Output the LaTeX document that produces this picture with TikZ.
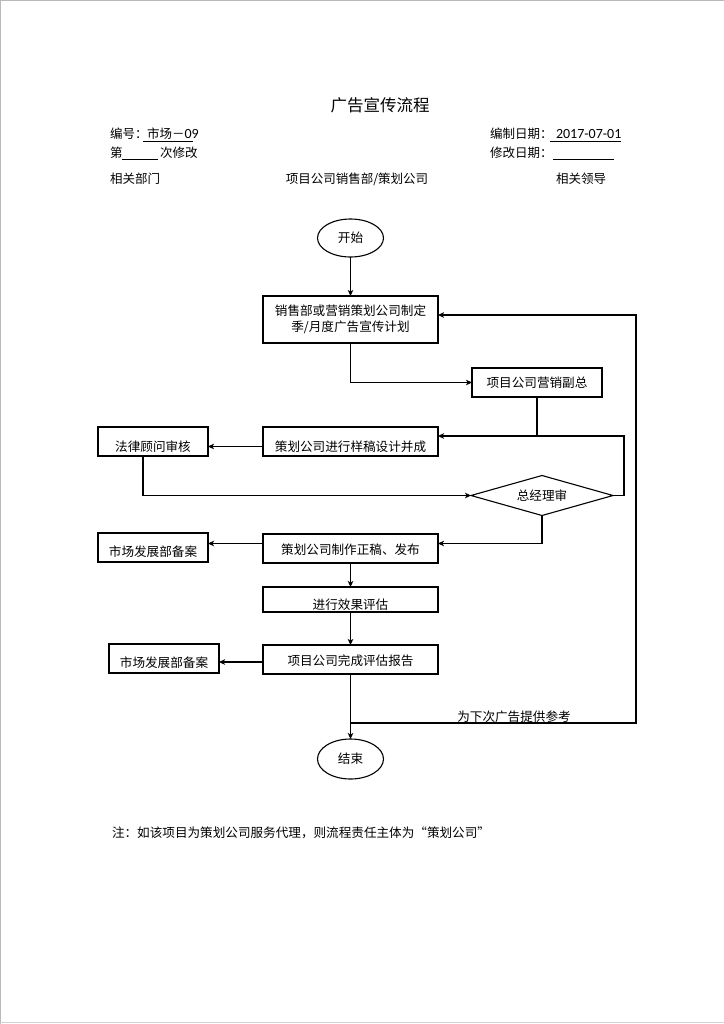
\documentclass[tikz,border=0pt]{standalone}
\usepackage{fontspec}
\setmainfont{Noto Sans CJK SC}
\newfontfamily\lat{Carlito}
\usetikzlibrary{shapes.geometric,arrows.meta}
\begin{document}
\begin{tikzpicture}[x=1bp,y=-1bp,
  every node/.style={inner sep=0pt, outer sep=0pt},
  txt/.style={font=\fontsize{12.6bp}{16bp}\selectfont},
  ttl/.style={font=\fontsize{16.5bp}{20bp}\selectfont},
  hdr/.style={font=\fontsize{12.5bp}{15bp}\selectfont, anchor=base west},
  box/.style={draw, line width=1.1bp, rectangle, minimum height=29bp, txt, align=center},
  wide/.style={minimum width=175bp},
  narrow/.style={minimum width=110bp},
  drop/.style={text height=#1, text depth=0pt},
  term/.style={draw, line width=1.1bp, ellipse, minimum width=66bp, minimum height=38bp, txt},
  dec/.style={draw, line width=1.1bp, diamond, aspect=3.55, minimum width=142bp, minimum height=40bp, txt},
  conn/.style={line width=1.1bp},
  arr/.style={line width=1.1bp, -{Stealth[length=6bp,width=5.5bp,inset=1.5bp]}},
  uline/.style={line width=0.8bp},
  pageedge/.style={line width=1.2bp},
]
\useasboundingbox (0,0) rectangle (724,1024);
% page edge
\draw[pageedge, gray!55] (0.6,1024) -- (0.6,0.6) -- (724,0.6);
\draw[pageedge, gray!35] (0,1022.8) -- (724,1022.8);

% title and header
\node[ttl] (title) at (380,105) {广告宣传流程};
\node[hdr] (n1) at (110,138.5) {编号：};
\node[hdr] (n1v) at (147,138.5) {市场－{\lat\fontsize{14bp}{16bp}\selectfont 09}};
\draw[uline] (143,141.5) -- (193,141.5);
\node[hdr] (d1) at (490,138.5) {编制日期：};
\node[hdr] (d1v) at (556,138.5) {\lat\fontsize{14bp}{16bp}\selectfont 2017-07-01};
\draw[uline] (550,141.5) -- (621,141.5);
\node[hdr] (n2) at (110,157.5) {第};
\draw[uline] (122,159.5) -- (158,159.5);
\node[hdr] (n2b) at (160,157.5) {次修改};
\node[hdr] (d2) at (490,157.5) {修改日期：};
\draw[uline] (553,159.5) -- (614,159.5);
\node[hdr] (r1) at (110,183.5) {相关部门};
\node[hdr, anchor=base] (r2) at (357,183.5) {项目公司销售部/策划公司};
\node[hdr] (r3) at (556,183.5) {相关领导};

% flow nodes
\node[term] (start) at (350.5,238) {开始};
\node[box, wide, minimum height=47bp] (b1) at (350.5,319.5) {销售部或营销策划公司制定\\季/月度广告宣传计划};
\node[box, minimum width=130bp] (b2) at (537,382.5) {项目公司营销副总};
\node[box, wide, drop=20bp] (b3) at (350.5,441.5) {策划公司进行样稿设计并成};
\node[box, narrow, drop=20bp] (b4) at (153,441.5) {法律顾问审核};
\node[dec] (dia) at (542,495.5) {总经理审};
\node[box, wide, drop=12bp] (b5) at (350.5,548.5) {策划公司制作正稿、发布};
\node[box, narrow, drop=18bp] (b6) at (153,547.5) {市场发展部备案};
\node[box, wide, minimum height=25bp, drop=20bp] (b7) at (350.5,599.5) {进行效果评估};
\node[box, wide, drop=12bp] (b8) at (350.5,659.5) {项目公司完成评估报告};
\node[box, narrow, drop=18bp] (b9) at (164,658.5) {市场发展部备案};
\node[term, minimum height=40bp] (end) at (350.5,759) {结束};

% connectors
\coordinate (j1) at (537,436);
\coordinate (j2) at (350.5,723);
\coordinate (r) at (636,723);
\draw[arr] (start) -- (b1);
\draw[arr] (b1.south) |- (b2.west);
\draw[conn] (b2.south) -- (j1);
\draw[arr] (dia.east) -- ++(11,0) |- (b3.east |- j1);
\draw[arr] ([yshift=-5bp]b3.west) -- ([yshift=-5bp]b3.west -| b4.east);
\draw[arr] ([xshift=-10bp]b4.south) |- (dia.west);
\draw[arr] (dia.south) |- ([yshift=5bp]b5.east);
\draw[arr] ([yshift=5bp]b5.west) -- ([yshift=5bp]b5.west -| b6.east);
\draw[arr] (b5) -- (b7);
\draw[arr] (b7) -- (b8);
\draw[arr] ([yshift=-2.5bp]b8.west) -- ([yshift=-2.5bp]b8.west -| b9.east);
\draw[arr] (b8) -- (end);
\draw[arr] (j2) -- (r) |- ([yshift=4.5bp]b1.east);
\node[txt, anchor=base] (lbl) at (514,721) {为下次广告提供参考};

% note
\node[txt, anchor=base west] (note) at (112,837.5) {注：如该项目为策划公司服务代理，则流程责任主体为“策划公司”};
\end{tikzpicture}
\end{document}
